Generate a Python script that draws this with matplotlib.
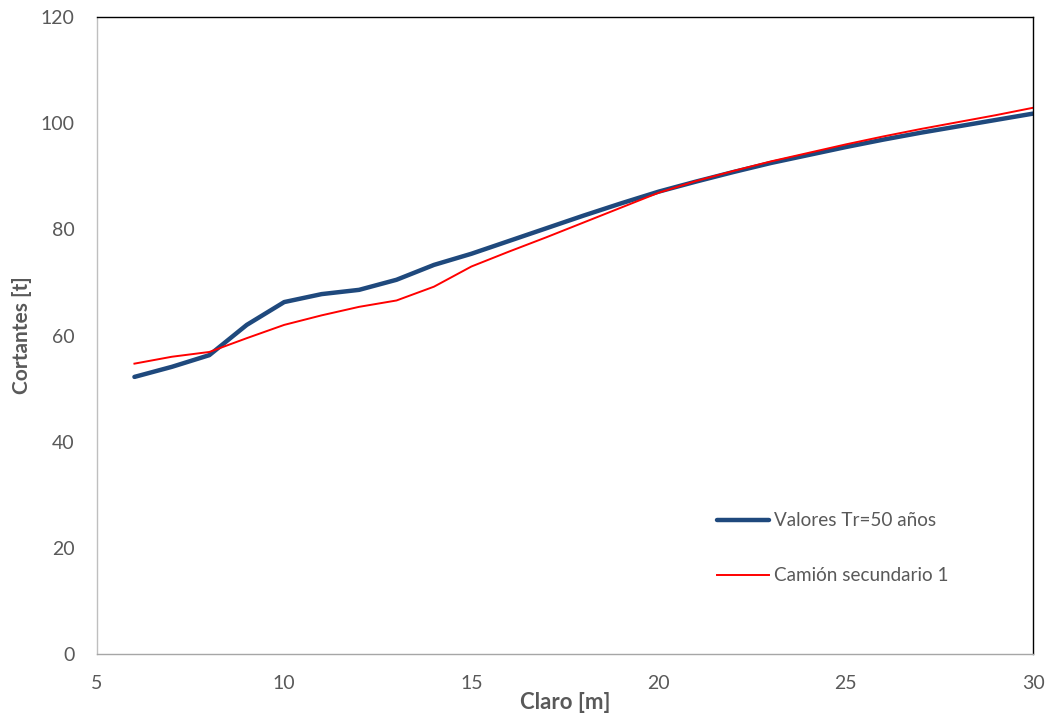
import matplotlib
matplotlib.use("Agg")
import matplotlib.pyplot as plt

# Datos
claro = [6, 7, 8, 9, 10, 11, 12, 13, 14, 15, 16, 17, 18, 19, 20,
         21, 22, 23, 24, 25, 26, 27, 28, 29, 30]
valores_tr50 = [52.2, 54.1, 56.3, 62.0, 66.3, 67.8, 68.6, 70.5, 73.3, 75.4,
                77.8, 80.2, 82.6, 84.9, 87.1, 89.0, 90.8, 92.5, 94.0, 95.5,
                96.9, 98.2, 99.4, 100.6, 101.8]
camion_sec1 = [54.7, 56.0, 56.9, 59.5, 62.0, 63.8, 65.4, 66.6, 69.2, 73.0,
               75.8, 78.5, 81.3, 84.1, 86.9, 89.1, 91.0, 92.8, 94.4, 96.0,
               97.5, 98.9, 100.2, 101.5, 102.9]

gris = "#595959"
plt.rcParams['font.family'] = ['Lato', 'DejaVu Sans']

fig = plt.figure(figsize=(10.52, 7.23), dpi=100)
ax = fig.add_axes([0.0922, 0.0954, 0.8898, 0.8811])

ax.plot(claro, valores_tr50, color="#1F497D", lw=3.2, label="Valores Tr=50 años",
        solid_capstyle="round", solid_joinstyle="round")
ax.plot(claro, camion_sec1, color="#FF0000", lw=1.4, label="Camión secundario 1",
        solid_joinstyle="round")

ax.set_xlim(5, 30)
ax.set_ylim(0, 120)
ax.set_xticks(range(5, 31, 5))
ax.set_yticks(range(0, 121, 20))
ax.tick_params(length=0, labelsize=14, colors=gris)
ax.tick_params(axis="y", pad=16)
ax.tick_params(axis="x", pad=15)

# Marco: izquierda y abajo gris, arriba y derecha negro
ax.spines["left"].set_color("#BFBFBF")
ax.spines["bottom"].set_color("#A6A6A6")
ax.spines["top"].set_color("black")
ax.spines["right"].set_color("black")
for s in ax.spines.values():
    s.set_linewidth(1.0)

ax.set_xlabel("Claro [m]", fontsize=16, fontweight="bold", color=gris, labelpad=0)
ax.set_ylabel("Cortantes [t]", fontsize=15, fontweight="bold", color=gris, labelpad=6)

ax.legend(loc="center left", bbox_to_anchor=(0.662, 0.166), frameon=False,
          fontsize=13.6, handlelength=2.75, handletextpad=0.3, labelspacing=2.0,
          borderpad=0, borderaxespad=0, labelcolor=gris)

fig.savefig("out.png", dpi=100)
